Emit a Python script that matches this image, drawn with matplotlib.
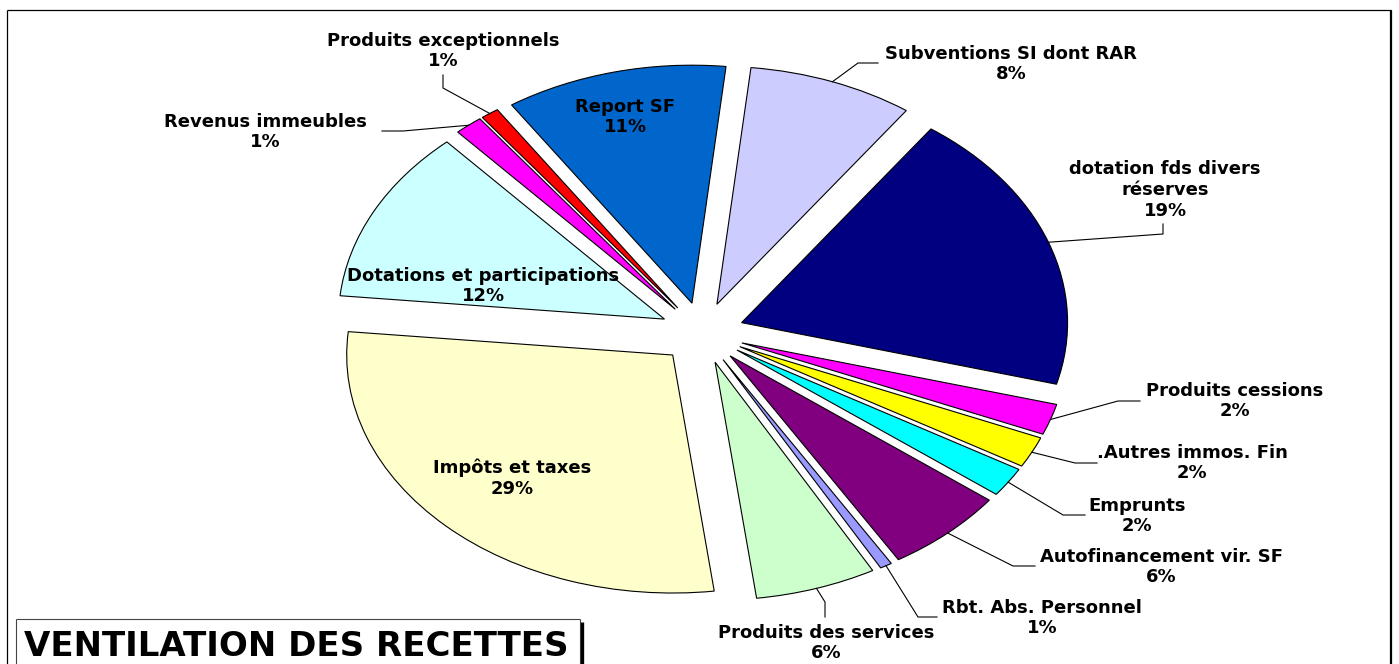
import numpy as np
import matplotlib
matplotlib.use("Agg")
import matplotlib.pyplot as plt

# ---- data ----
categories = [
    "Subventions SI dont RAR",
    "dotation fds divers\nréserves",
    "Produits cessions",
    ".Autres immos. Fin",
    "Emprunts",
    "Autofinancement vir. SF",
    "Rbt. Abs. Personnel",
    "Produits des services",
    "Impôts et taxes",
    "Dotations et participations",
    "Revenus immeubles",
    "Produits exceptionnels",
    "Report SF",
]
values = [8.2, 19.3, 2.1, 2.1, 2.0, 6.0, 0.6, 6.0, 28.6, 11.8, 1.4, 0.9, 11.0]
colors = ["#CCCCFF", "#000080", "#FF00FF", "#FFFF00", "#00FFFF", "#800080",
          "#9999FF", "#CCFFCC", "#FFFFCC", "#CCFFFF", "#FF00FF", "#FF0000",
          "#0066CC"]
title = "VENTILATION DES RECETTES"

plt.rcParams['font.family'] = ['DejaVu Sans']

W, H = 1399, 664
fig = plt.figure(figsize=(W / 100, H / 100), dpi=100)
ax = fig.add_axes([0, 0, 1, 1])

# pixel <-> data mapping (pie centre and elliptical radii in pixels)
CX, CY, RX, RY = 702.0, 333.0, 326.0, 238.0


def P(px, py):
    return ((px - CX) / RX, (CY - py) / RY)


wedges, _ = ax.pie(values, colors=colors, startangle=84, counterclock=False,
                   explode=[0.129] * len(values), radius=1,
                   wedgeprops=dict(edgecolor="black", linewidth=0.8))
ax.set_aspect("auto")
ax.set_xlim(P(0, 0)[0], P(W, 0)[0])
ax.set_ylim(P(0, H)[1], P(0, 0)[1])
ax.axis("off")

total = sum(values)
pct = [f"{round(v / total * 100):.0f}%" for v in values]

FS = 13
LS = 1.2
# outside labels: text block centre and leader path (pixels)
outside = {
    0: ((1011, 64), [(858, 63), (878, 63)]),
    1: ((1165, 190), [(1163, 234), (1163, 224)]),
    2: ((1235, 401), [(1118, 401), (1140, 401)]),
    3: ((1192, 463), [(1075, 463), (1097, 463)]),
    4: ((1137, 516), [(1063, 515), (1085, 515)]),
    5: ((1161, 567), [(1013, 566), (1035, 566)]),
    6: ((1042, 618), [(918, 617), (937, 617)]),
    7: ((826, 643), [(825, 602), (825, 617)]),
    10: ((265, 132), [(403, 131), (382, 131)]),
    11: ((443, 51), [(443, 88), (443, 75)]),
}
inside = {8: (512, 478), 9: (483, 286), 12: (625, 117)}

for i, w in enumerate(wedges):
    txt = f"{categories[i]}\n{pct[i]}"
    if i in outside:
        (tx, ty), path = outside[i]
        th = np.deg2rad((w.theta1 + w.theta2) / 2)
        cx, cy = w.center
        sx, sy = cx + w.r * np.cos(th), cy + w.r * np.sin(th)
        pts = [P(*p) for p in path]
        ax.plot([sx] + [p[0] for p in pts], [sy] + [p[1] for p in pts],
                color="black", lw=0.8, clip_on=False)
        ax.text(*P(tx, ty), txt, ha="center", va="center", fontsize=FS,
                fontweight="bold", linespacing=LS, multialignment="center")
    else:
        tx, ty = inside[i]
        ax.text(*P(tx, ty), txt, ha="center", va="center", fontsize=FS,
                fontweight="bold", linespacing=LS, multialignment="center")

# outer chart frame
def line(p1, p2, lw=1.0, color="black"):
    a, b = P(*p1), P(*p2)
    ax.plot([a[0], b[0]], [a[1], b[1]], color=color, lw=lw, clip_on=False,
            solid_capstyle="butt")

line((7, 10), (1391, 10), lw=0.9)
line((7, 10), (7, 664), lw=0.9)
line((1391, 10), (1391, 664), lw=1.6)

# title box
line((16, 619), (580, 619), lw=0.8, color="#444444")
line((16, 619), (16, 664), lw=0.8, color="#444444")
line((580, 619), (580, 664), lw=0.8, color="#444444")
line((582, 622), (582, 664), lw=2.4)
ax.text(*P(24, 656), title, ha="left", va="baseline", fontsize=24.5,
        fontweight="bold")

fig.savefig("out.png", dpi=100)
